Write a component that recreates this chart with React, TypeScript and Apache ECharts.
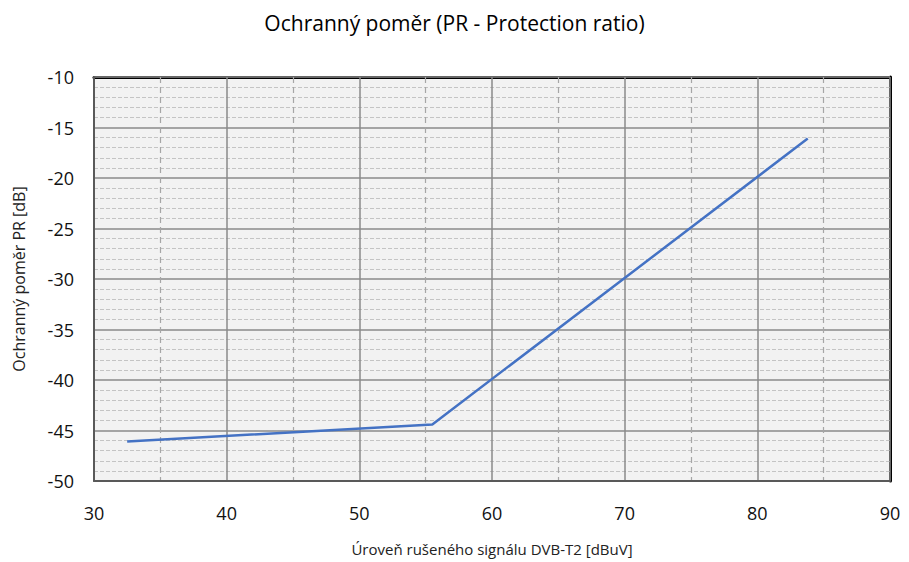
import React, { useEffect, useRef } from "react";
import * as echarts from "echarts";

const title = "Ochranný poměr (PR - Protection ratio)";
const xName = "Úroveň rušeného signálu DVB-T2 [dBuV]";
const yName = "Ochranný poměr PR [dB]";
const xValues = [32.5, 55.5, 83.8];
const yValues = [-46.1, -44.4, -16.1];

export default function App() {
  const ref = useRef<HTMLDivElement>(null);
  useEffect(() => {
    const chart = echarts.init(ref.current!, undefined, { renderer: "svg" });
    const font = "'Open Sans', 'Noto Sans', sans-serif";
    chart.setOption({
      animation: false,
      backgroundColor: "#ffffff",
      title: {
        text: title,
        left: "center",
        top: 7,
        textStyle: { fontFamily: font, fontSize: 21, fontWeight: "normal", color: "#000" },
      },
      grid: {
        left: 94,
        right: 19,
        top: 77,
        bottom: 81,
        outerBoundsMode: "none",
        containLabel: false,
        show: true,
        backgroundColor: "#f2f2f2",
        borderWidth: 0,
      },
      xAxis: [
        {
          type: "value",
          min: 30,
          max: 90,
          interval: 10,
          position: "bottom",
          name: xName,
          nameLocation: "middle",
          nameGap: 60,
          nameTextStyle: { fontFamily: font, fontSize: 15, color: "#222" },
          axisLine: { show: true, onZero: false, lineStyle: { color: "#595959", width: 2 } },
          axisTick: { show: false },
          axisLabel: { fontFamily: font, fontSize: 18, color: "#111", margin: 23 },
          splitLine: { show: true, lineStyle: { color: "#8a8a8a", width: 1.5 } },
          minorTick: { show: false, splitNumber: 2 },
          minorSplitLine: { show: true, lineStyle: { color: "#a6a6a6", width: 1.2, type: [6, 4] } },
          z: 3,
        },
        {
          type: "value",
          min: 30,
          max: 90,
          position: "top",
          axisLine: { show: true, onZero: false, lineStyle: { color: "#000", width: 3 } },
          axisTick: { show: false },
          axisLabel: { show: false },
          splitLine: { show: false },
        },
      ],
      yAxis: [
        {
          type: "value",
          min: -50,
          max: -10,
          interval: 5,
          position: "left",
          name: yName,
          nameLocation: "middle",
          nameGap: 67,
          nameTextStyle: { fontFamily: font, fontSize: 16, color: "#222" },
          axisLine: { show: true, onZero: false, lineStyle: { color: "#595959", width: 2 } },
          axisTick: { show: false },
          axisLabel: { fontFamily: font, fontSize: 18, color: "#111", margin: 20 },
          splitLine: { show: true, lineStyle: { color: "#8a8a8a", width: 1.5 } },
          minorTick: { show: false, splitNumber: 5 },
          minorSplitLine: { show: true, lineStyle: { color: "#c4c4c4", width: 1, type: [4, 2] } },
          z: 3,
        },
        {
          type: "value",
          min: -50,
          max: -10,
          position: "right",
          axisLine: { show: true, onZero: false, lineStyle: { color: "#000", width: 3 } },
          axisTick: { show: false },
          axisLabel: { show: false },
          splitLine: { show: false },
        },
      ],
      series: [
        {
          type: "line",
          data: xValues.map((x, i) => [x, yValues[i]]),
          showSymbol: false,
          lineStyle: { color: "#4472C4", width: 2.5 },
          z: 5,
        },
      ],
    });
    return () => chart.dispose();
  }, []);
  return <div ref={ref} style={{ width: 909, height: 562, position: "absolute", left: 0, top: 0 }} />;
}
